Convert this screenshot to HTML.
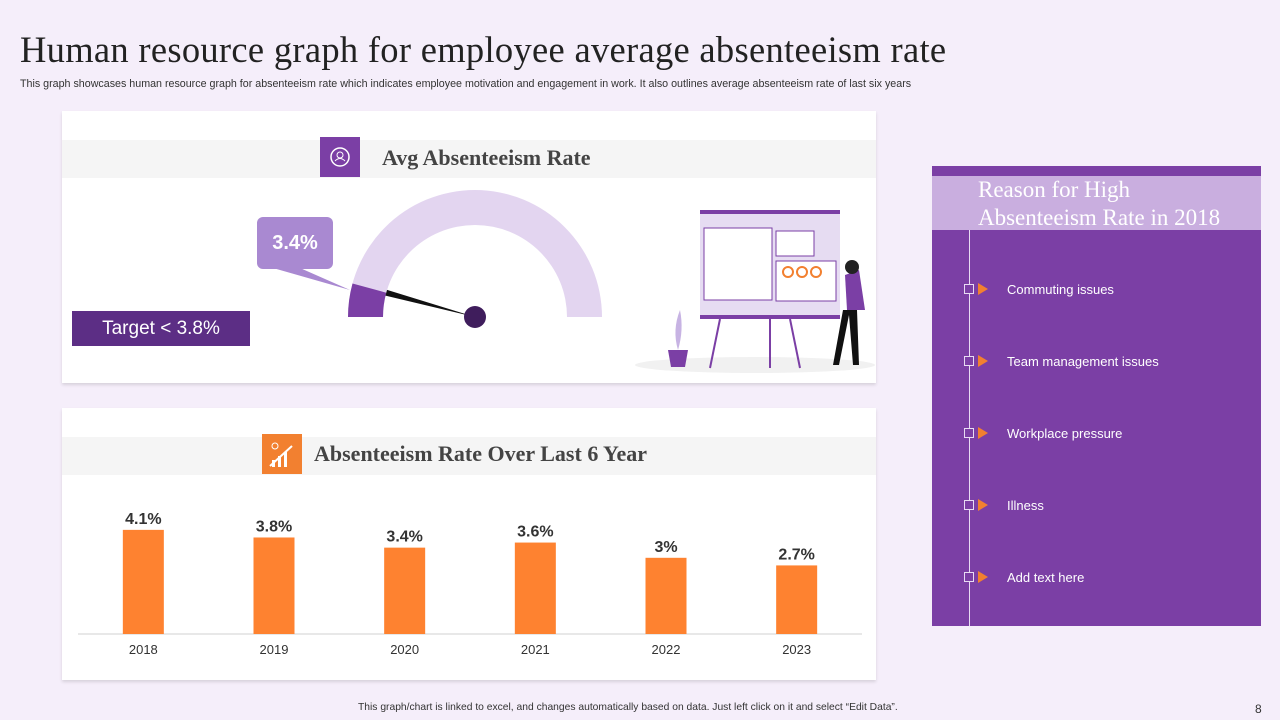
<!DOCTYPE html>
<html><head><meta charset="utf-8"><style>
body{margin:0;width:1280px;height:720px;background:#f5eefa;font-family:"Liberation Sans",sans-serif;position:relative;overflow:hidden}
.abs{position:absolute}
.serif{font-family:"Liberation Serif",serif}
</style></head><body>
<div class="abs serif" style="left:20px;top:28px;font-size:36.5px;color:#222;letter-spacing:0.3px;white-space:nowrap">Human resource graph for employee average absenteeism rate</div>
<div class="abs" style="left:20px;top:78px;font-size:10.7px;color:#333;white-space:nowrap">This graph showcases human resource graph for absenteeism rate which indicates employee motivation and engagement in work. It also outlines average absenteeism rate of last six years</div>

<div class="abs" style="left:62px;top:111px;width:814px;height:272px;background:#fff;box-shadow:0 2px 3px rgba(0,0,0,0.12)">
  <div class="abs" style="left:0;top:29px;width:814px;height:38px;background:#f5f5f5"></div>
  <div class="abs" style="left:258px;top:26px;width:40px;height:40px;background:#7b3fa5">
    <svg width="40" height="40"><circle cx="20" cy="20" r="9" fill="none" stroke="#fff" stroke-width="1.5"/><circle cx="20" cy="18" r="3" fill="none" stroke="#fff"/><path d="M15 24 q5 -5 10 0" fill="none" stroke="#fff"/></svg>
  </div>
  <div class="abs serif" style="left:320px;top:34px;font-size:22px;font-weight:bold;color:#444">Avg Absenteeism Rate</div>
</div>

<svg class="abs" style="left:0;top:0" width="1280" height="720">
  <g id="gauge"></g>
</svg>
<div class="abs" style="left:257px;top:217px;width:76px;height:52px;background:#a989d1;border-radius:6px;color:#fff;font-size:20px;font-weight:bold;text-align:center;line-height:52px">3.4%</div>
<div class="abs" style="left:72px;top:311px;width:178px;height:35px;background:#5c2e85;color:#fff;font-size:19px;text-align:center;line-height:35px">Target &lt; 3.8%</div>

<svg class="abs" style="left:630px;top:205px" width="250" height="175">
  <ellipse cx="125" cy="160" rx="120" ry="8" fill="#f1f1f1"/>
  <rect x="70" y="5" width="140" height="108" fill="#e6dcf2"/>
  <rect x="70" y="5" width="140" height="4" fill="#7b3fa5"/>
  <rect x="70" y="110" width="140" height="4" fill="#7b3fa5"/>
  <rect x="74" y="23" width="68" height="72" fill="#fff" stroke="#7b3fa5"/>
  <rect x="146" y="26" width="38" height="25" fill="#fff" stroke="#7b3fa5"/>
  <rect x="146" y="56" width="60" height="40" fill="#fff" stroke="#7b3fa5"/>
  <circle cx="158" cy="67" r="5" fill="none" stroke="#f28030" stroke-width="2"/><circle cx="172" cy="67" r="5" fill="none" stroke="#f28030" stroke-width="2"/><circle cx="186" cy="67" r="5" fill="none" stroke="#f28030" stroke-width="2"/>
  <line x1="90" y1="114" x2="80" y2="163" stroke="#7b3fa5" stroke-width="2"/><line x1="140" y1="114" x2="140" y2="163" stroke="#7b3fa5" stroke-width="2"/><line x1="160" y1="114" x2="170" y2="163" stroke="#7b3fa5" stroke-width="2"/>
  <path d="M215 70 l14 -5 l6 40 l-18 0 z" fill="#7b3fa5"/>
  <circle cx="222" cy="62" r="7" fill="#222"/>
  <path d="M213 105 l-10 55 l6 0 l10 -50 l4 50 l6 0 l-2 -55 z" fill="#111"/>
  <path d="M38 145 h20 l-3 17 h-14 z" fill="#7b3fa5"/>
  <path d="M48 145 q-6 -20 2 -40 q4 20 -2 40" fill="#c7b3e3"/>
</svg>

<div class="abs" style="left:62px;top:408px;width:814px;height:272px;background:#fff;box-shadow:0 2px 3px rgba(0,0,0,0.12)">
  <div class="abs" style="left:0;top:29px;width:814px;height:38px;background:#f5f5f5"></div>
  <div class="abs" style="left:200px;top:26px;width:40px;height:40px;background:#f28030">
    <svg width="40" height="40"><path d="M8 32 L30 12" stroke="#fff" stroke-width="2"/><rect x="10" y="26" width="3" height="7" fill="#fff"/><rect x="16" y="22" width="3" height="11" fill="#fff"/><rect x="22" y="18" width="3" height="15" fill="#fff"/><circle cx="13" cy="12" r="3" fill="none" stroke="#fff"/></svg>
  </div>
  <div class="abs serif" style="left:252px;top:33px;font-size:22px;font-weight:bold;color:#444">Absenteeism Rate Over Last 6 Year</div>
</div>
<svg class="abs" style="left:0;top:0" width="1280" height="720"><g id="bars"></g></svg>

<div class="abs" style="left:932px;top:166px;width:329px;height:460px;background:#7b3fa5">
  <div class="abs" style="left:0;top:10px;width:329px;height:54px;background:#c9aedf"></div>
  <div class="abs serif" style="left:46px;top:10px;font-size:23px;line-height:28px;color:#fff;white-space:nowrap">Reason for High<br>Absenteeism Rate in 2018</div>
  <div class="abs" style="left:37px;top:64px;width:1px;height:396px;background:#e8dcf3"></div>
  <div id="items"></div>
</div>

<div class="abs" style="left:358px;top:702px;font-size:10.3px;color:#333;white-space:nowrap">This graph/chart is linked to excel, and changes automatically based on data. Just left click on it and select “Edit Data”.</div>
<div class="abs" style="left:1255px;top:702px;font-size:12px;color:#333">8</div>

<script>
const years=["2018","2019","2020","2021","2022","2023"];
const rates=[4.1,3.8,3.4,3.6,3.0,2.7];
const rateLabels=["4.1%","3.8%","3.4%","3.6%","3%","2.7%"];
const gaugeValue=[3.4];
const gaugeMax=[40];
const reasons=["Commuting issues","Team management issues","Workplace pressure","Illness","Add text here"];

const NS="http://www.w3.org/2000/svg";
function mk(tag,attrs,parent){const e=document.createElementNS(NS,tag);for(const k in attrs)e.setAttribute(k,attrs[k]);parent.appendChild(e);return e;}

const x0=78,x1=862,base=634,unit=25.4,bw=41;
const band=(x1-x0)/years.length;
const xPos=i=>x0+band*(i+0.5);
const yPos=v=>base-v*unit;
const bars=document.getElementById('bars');
const ax=mk('line',{x1:x0,x2:x1,y1:base,y2:base,stroke:'#d0d0d0'},bars);


years.forEach((y,i)=>{
  const cx=xPos(i);
  const r=mk('rect',{x:cx-bw/2,y:yPos(rates[i]),width:bw,height:base-yPos(rates[i]),fill:'#fe8230'},bars);
  
  
  const t=mk('text',{x:cx,y:yPos(rates[i])-6,'text-anchor':'middle','font-size':16,'font-weight':'bold',fill:'#333','font-family':'Liberation Sans'},bars);
  t.textContent=rateLabels[i];
  
  
  const l=mk('text',{x:cx,y:654,'text-anchor':'middle','font-size':13,fill:'#333','font-family':'Liberation Sans'},bars);
  l.textContent=y;
  
  
});

const g=document.getElementById('gauge');
const cx=475,cy=317,ro=127,ri=92;
function arc(a0,a1){
  const p=(r,a)=>[cx+r*Math.cos(a*Math.PI/180),cy-r*Math.sin(a*Math.PI/180)];
  const [ax0,ay0]=p(ro,a0),[ax1,ay1]=p(ro,a1),[bx1,by1]=p(ri,a1),[bx0,by0]=p(ri,a0);
  return `M${ax0} ${ay0} A${ro} ${ro} 0 0 1 ${ax1} ${ay1} L${bx1} ${by1} A${ri} ${ri} 0 0 0 ${bx0} ${by0} Z`;
}
const frac=gaugeValue[0]/gaugeMax[0];
const ang=180-180*frac;
const bg=mk('path',{d:arc(180,0),fill:'#e3d5f0'},g);


const fg=mk('path',{d:arc(180,ang),fill:'#7b3fa5'},g);


mk('path',{d:'M273 268 L300 268 L350 290 Z',fill:'#a989d1'},g);
const rad=ang*Math.PI/180;
const nx=cx+ri*Math.cos(rad),ny=cy-ri*Math.sin(rad);
const px=Math.sin(rad)*3,py=Math.cos(rad)*3;
const nd=mk('path',{d:`M${cx} ${cy} L${nx+px} ${ny+py} L${nx-px} ${ny-py} Z`,fill:'#111'},g);


const hub=mk('circle',{cx:cx,cy:cy,r:11,fill:'#3f1d5c'},g);



const items=document.getElementById('items');
reasons.forEach((t,i)=>{
  const top=118+72*i;
  const d=document.createElement('div');
  d.className='abs';
  d.style.cssText=`left:32px;top:${top}px;width:280px;height:16px`;
  d.innerHTML=`<div class="abs" style="left:0;top:0;width:8px;height:8px;border:1px solid #e8dcf3;background:#7b3fa5"></div><div class="abs" style="left:14px;top:-1px;width:0;height:0;border-top:6px solid transparent;border-bottom:6px solid transparent;border-left:10px solid #f28030"></div><div class="abs" style="left:43px;top:-2px;font-size:13px;color:#fff;white-space:nowrap">${t}</div>`;
  
  
  items.appendChild(d);
});
</script>
</body></html>
